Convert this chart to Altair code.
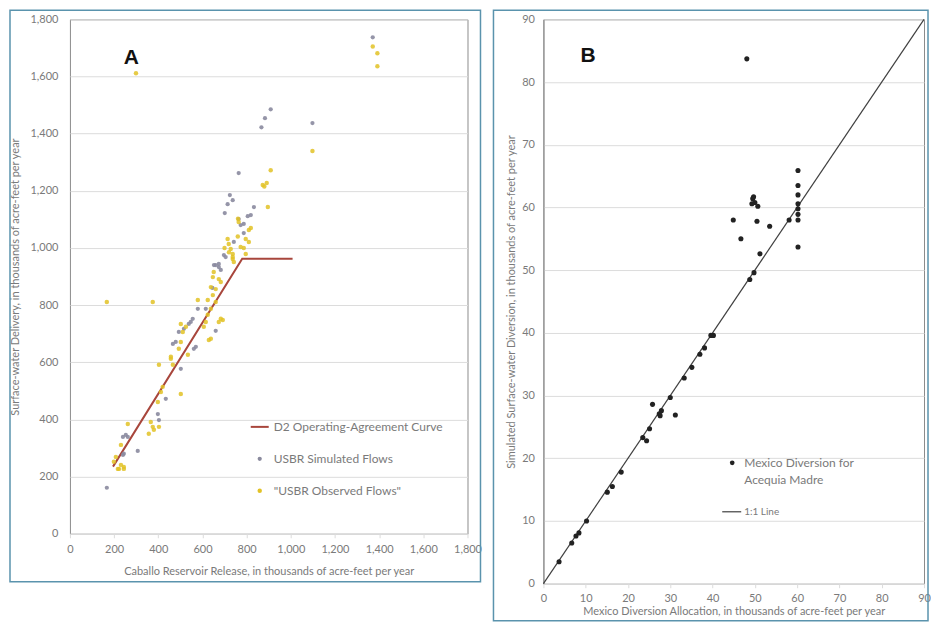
import altair as alt
import pandas as pd

# ---------------- Panel A data ----------------
d2_x = [195, 780, 1008]
d2_y = [235, 962, 962]

sim_x = [167, 240, 244, 262, 240, 253, 307, 398, 403, 434, 466, 479, 502, 493, 516, 538, 547, 556, 561, 570,
         579, 615, 660, 652, 660, 674, 683, 697, 705, 674, 645, 701, 714, 724, 737, 742, 764, 773, 787, 787,
         805, 819, 833, 764, 867, 883, 909, 1098, 1371]
sim_y = [161, 276, 280, 339, 339, 346, 290, 419, 398, 472, 664, 671, 577, 706, 717, 734, 741, 752, 647, 654,
         787, 787, 710, 940, 940, 933, 923, 975, 968, 944, 860, 1122, 1153, 1185, 1167, 1021, 1101, 1080, 1084, 1052,
         1111, 1115, 1143, 1262, 1422, 1454, 1485, 1437, 1737]

obs_x = [167, 375, 299, 1371, 1392, 1392, 1098, 909, 873, 891, 880, 896, 764, 761, 810, 819, 796, 810, 714, 719,
         728, 737, 787, 796, 737, 773, 737, 742, 651, 647, 674, 683, 638, 660, 647, 624, 660, 579, 638, 624,
         615, 606, 683, 674, 692, 502, 525, 511, 638, 502, 493, 457, 534, 629, 403, 457, 466, 420, 412, 502,
         398, 403, 366, 375, 357, 380, 262, 231, 208, 199, 222, 244, 231, 217, 244, 760, 700, 720]
obs_y = [811, 811, 1611, 1705, 1681, 1636, 1339, 1272, 1220, 1227, 1215, 1143, 1091, 1102, 1063, 1070, 1031, 1021, 1031, 1014,
         996, 979, 1000, 979, 961, 1003, 968, 951, 916, 898, 891, 881, 863, 856, 835, 818, 811, 818, 787, 766,
         741, 724, 752, 741, 748, 734, 724, 706, 682, 671, 647, 619, 626, 678, 591, 612, 591, 514, 496, 489,
         461, 374, 391, 374, 350, 364, 384, 311, 269, 252, 227, 234, 241, 227, 227, 1040, 1000, 985]

# ---------------- Panel B data ----------------
mex_x = [48.1, 60.2, 60.2, 60.2, 60.2, 60.2, 60.2, 60.2, 60.2, 58.1, 44.9, 46.7, 50.5, 53.5, 51.2, 49.8, 48.8,
         49.5, 50.0, 50.7, 49.3, 49.7,
         40.2, 39.6, 38.1, 37.0, 35.1, 33.3, 30.0, 25.8, 31.2, 27.9, 27.4, 27.6, 25.1, 23.5, 24.4, 18.4,
         16.3, 15.1, 10.2, 8.4, 7.7, 6.7, 3.7]
mex_y = [83.7, 65.9, 63.5, 62.0, 60.6, 59.8, 58.9, 58.0, 53.7, 58.0, 58.0, 55.0, 57.8, 57.0, 52.6, 49.6, 48.5,
         61.4, 60.8, 60.2, 60.6, 61.7,
         39.6, 39.6, 37.6, 36.6, 34.5, 32.8, 29.7, 28.6, 26.9, 27.6, 27.1, 26.8, 24.7, 23.3, 22.8, 17.8,
         15.5, 14.6, 10.0, 8.1, 7.6, 6.5, 3.5]
one_x = [0, 90]
one_y = [0, 90]

A_ticks = list(range(0, 1801, 200))
B_ticks = list(range(0, 91, 10))

FONT = "Lato"
TXT = "#7a7a7a"
GRID = "#dcdcdc"
BORDER = "#5a93ad"
RED = "#a8463c"
GREYPT = "#8a8a9e"
YEL = "#e2c226"

one = pd.DataFrame({"k": [0]})

def border(x1, x2, y1, y2):
    return alt.Chart(one).mark_rect(fill="transparent", stroke=BORDER, strokeWidth=1.5, clip=False).encode(
        x=alt.value(x1), x2=alt.value(x2), y=alt.value(y1), y2=alt.value(y2))

def label(text, x, y, size=11, weight="normal", color=TXT, font=FONT):
    return alt.Chart(one).mark_text(align="left", baseline="middle", fontSize=size, fontWeight=weight,
                                    color=color, font=font).encode(
        x=alt.value(x), y=alt.value(y), text=alt.value(text))

# ---------------- Panel A ----------------
ax = alt.X("x:Q", scale=alt.Scale(domain=[0, 1800], nice=False),
           axis=alt.Axis(values=A_ticks, format=",d", grid=False, tickSize=4, tickColor=GRID,
                         domainColor=GRID, labelPadding=6, titlePadding=11, labelOverlap=False,
                         labelFlush=False,
                         title="Caballo Reservoir Release, in thousands of acre-feet per year"))
ay = alt.Y("y:Q", scale=alt.Scale(domain=[0, 1800], nice=False),
           axis=alt.Axis(values=A_ticks, format=",d", grid=True, gridColor=GRID, ticks=False, domain=False,
                         labelPadding=12, titlePadding=9, labelOverlap=False, labelFlush=False,
                         title="Surface-water Delivery, in thousands of acre-feet per year"))

d2 = alt.Chart(pd.DataFrame({"x": d2_x, "y": d2_y})).mark_line(color=RED, strokeWidth=2).encode(x=ax, y=ay)
sim = alt.Chart(pd.DataFrame({"x": sim_x, "y": sim_y})).mark_circle(color=GREYPT, size=18, opacity=0.9).encode(x=ax, y=ay)
obs = alt.Chart(pd.DataFrame({"x": obs_x, "y": obs_y})).mark_circle(color=YEL, size=20, opacity=0.85).encode(x=ax, y=ay)

legA_line = alt.Chart(one).mark_rule(color=RED, strokeWidth=2).encode(
    x=alt.value(181), x2=alt.value(199), y=alt.value(408))
legA_sim = alt.Chart(one).mark_circle(color=GREYPT, size=18, opacity=1).encode(x=alt.value(190), y=alt.value(440))
legA_obs = alt.Chart(one).mark_circle(color=YEL, size=20, opacity=1).encode(x=alt.value(190), y=alt.value(472))

panelA = alt.layer(
    border(-60, 411, -9, 563),
    d2, sim, obs,
    legA_line, legA_sim, legA_obs,
    label("D2 Operating-Agreement Curve", 204, 408, size=12),
    label("USBR Simulated Flows", 204, 440, size=12),
    label("\"USBR Observed Flows\"", 204, 472, size=12),
    label("A", 54, 39, size=21, weight="bold", color="#111111", font="Liberation Sans"),
).properties(width=398, height=515)

# ---------------- Panel B ----------------
bx = alt.X("x:Q", scale=alt.Scale(domain=[0, 90], nice=False),
           axis=alt.Axis(values=B_ticks, grid=False, tickSize=4, tickColor=GRID, domainColor=GRID,
                         labelPadding=5, titlePadding=2, labelOverlap=False, labelFlush=False,
                         title="Mexico Diversion Allocation, in thousands of acre-feet per year"))
by = alt.Y("y:Q", scale=alt.Scale(domain=[0, 90], nice=False),
           axis=alt.Axis(values=B_ticks, grid=True, gridColor=GRID, ticks=False, domain=True,
                         domainColor="#8c8c8c", labelPadding=9, titlePadding=5, labelOverlap=False,
                         labelFlush=False,
                         title="Simulated Surface-water Diversion, in thousands of acre-feet per year"))

oneline = alt.Chart(pd.DataFrame({"x": one_x, "y": one_y})).mark_line(color="#404040", strokeWidth=1.2).encode(x=bx, y=by)
mex = alt.Chart(pd.DataFrame({"x": mex_x, "y": mex_y})).mark_circle(color="#222222", size=26, opacity=1).encode(x=bx, y=by)

legB_dot = alt.Chart(one).mark_circle(color="#222222", size=22, opacity=1).encode(x=alt.value(189), y=alt.value(444))
legB_line = alt.Chart(one).mark_rule(color="#404040", strokeWidth=1.2).encode(
    x=alt.value(179), x2=alt.value(198), y=alt.value(493))

panelB = alt.layer(
    border(-50, 385, -9, 602),
    oneline, mex,
    legB_dot, legB_line,
    label("Mexico Diversion for", 201, 444, size=12),
    label("Acequia Madre", 201, 461, size=12),
    label("1:1 Line", 201, 493, size=10),
    label("B", 37, 37, size=21, weight="bold", color="#111111", font="Liberation Sans"),
).properties(width=381, height=565)

chart = alt.hconcat(panelA, panelB, spacing=9, padding=0, background="white").configure_view(
    stroke="#8c8c8c", strokeWidth=1
).configure_axis(
    labelFont=FONT, titleFont=FONT, labelFontSize=11, titleFontSize=11, labelColor=TXT, titleColor=TXT,
    titleFontWeight="normal"
)

chart.save("out.html", embed_options={"renderer": "svg", "actions": False})
